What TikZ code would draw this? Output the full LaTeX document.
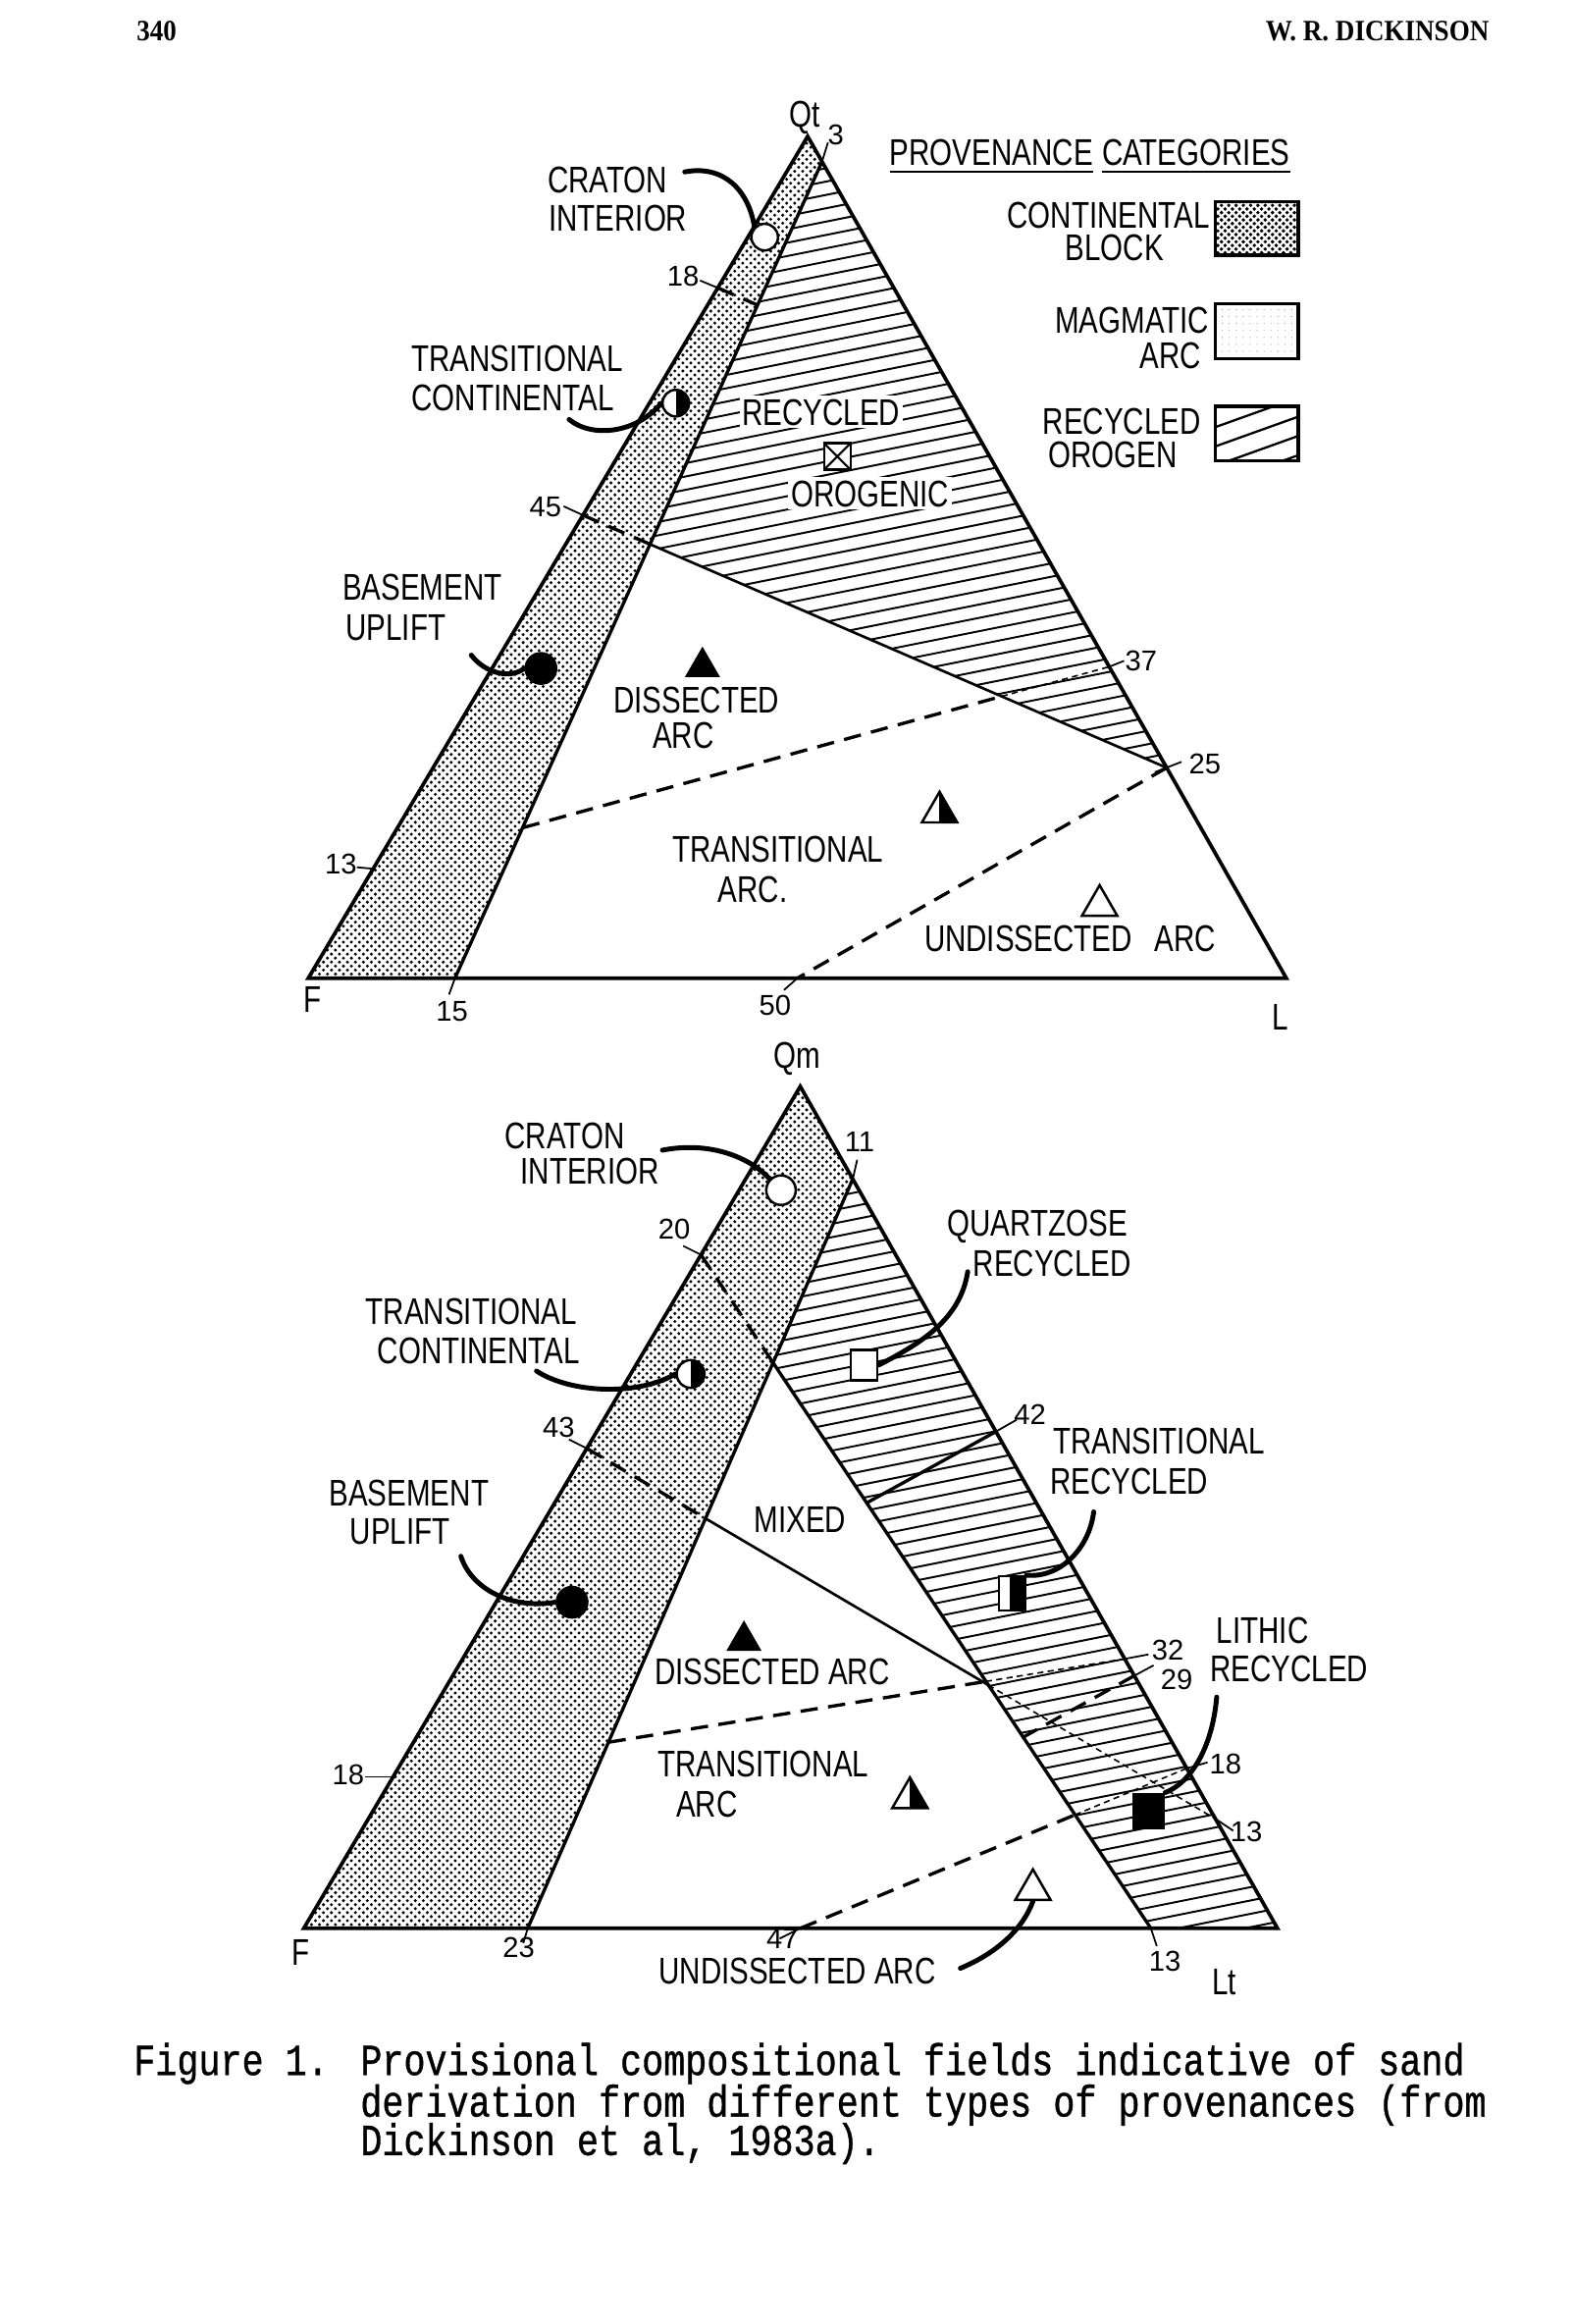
\documentclass[tikz,border=0pt]{standalone}
\usepackage{fontspec}
\usetikzlibrary{calc,patterns,shapes.geometric}
\newfontfamily\labf[FakeStretch=0.78]{Liberation Sans}
\newfontfamily\numf{Liberation Sans}
\newfontfamily\capf[FakeStretch=0.815,FakeBold=0.8]{Liberation Mono}
\newfontfamily\headf[FakeStretch=0.9]{Liberation Serif}
\pgfdeclarepatternformonly{stip}{\pgfqpoint{-1pt}{-1pt}}{\pgfqpoint{5.6pt}{5.6pt}}{\pgfqpoint{4.6pt}{4.6pt}}{%
  \pgfpathcircle{\pgfqpoint{0pt}{0pt}}{0.95pt}%
  \pgfpathcircle{\pgfqpoint{2.3pt}{2.3pt}}{0.95pt}%
  \pgfusepath{fill}}
\pgfdeclarepatternformonly{stipdark}{\pgfqpoint{-1pt}{-1pt}}{\pgfqpoint{5.2pt}{5.2pt}}{\pgfqpoint{4.2pt}{4.2pt}}{%
  \pgfpathcircle{\pgfqpoint{0pt}{0pt}}{1.1pt}%
  \pgfpathcircle{\pgfqpoint{2.1pt}{2.1pt}}{1.1pt}%
  \pgfusepath{fill}}
\pgfdeclarepatternformonly{stiplight}{\pgfqpoint{-1pt}{-1pt}}{\pgfqpoint{5pt}{5pt}}{\pgfqpoint{4pt}{4pt}}{%
  \pgfpathcircle{\pgfqpoint{0pt}{0pt}}{0.3pt}%
  \pgfusepath{fill}}
\begin{document}
\begin{tikzpicture}[x=0.03cm,y=-0.03cm,
  edge/.style={line width=2.1pt,line join=miter},
  bnd/.style={line width=1.9pt},
  sol/.style={line width=1.5pt},
  dsh/.style={line width=1.9pt,dash pattern=on 10pt off 6pt},
  fdsh/.style={line width=0.9pt,dash pattern=on 3.5pt off 2.5pt},
  hat/.style={line width=1.1pt},
  tick/.style={line width=1pt},
  ptr/.style={line width=2.8pt,line cap=round},
  lab/.style={font=\labf\fontsize{21.4}{22.1}\selectfont,align=center,inner sep=0pt,text height=15.4pt,text depth=0.3pt},
  num/.style={font=\numf\fontsize{16.5}{18}\selectfont,inner sep=0pt,text height=11.9pt,text depth=0.2pt},
  mk/.style={draw,line width=1.4pt,inner sep=0pt},
  tri/.style={regular polygon,regular polygon sides=3,minimum size=23.5pt,inner sep=0pt},
  halfright/.style={path picture={\fill[black] (path picture bounding box.north) rectangle (path picture bounding box.south east);}},
  capt/.style={font=\capf\fontsize{25.5}{27}\selectfont,inner sep=0pt,anchor=base west,text height=14.5pt,text depth=4pt},
  head/.style={font=\headf\bfseries\fontsize{17}{18}\selectfont,inner sep=0pt},
]
\fill[white] (0,0) rectangle (1062,1568);
\useasboundingbox (0,0) rectangle (1062,1568);

% ---------- header
\node[head,anchor=west] (pg) at (92,21) {340};
\node[head,anchor=east] (au) at (1005,21) {W. R. DICKINSON};

% ================= TOP TRIANGLE (Qt F L)
\coordinate (F1) at (208,660);
\coordinate (L1) at (868,660);
\coordinate (Q1) at (545,92);
\coordinate (T3) at ($(Q1)!0.03!(L1)$);
\coordinate (B15) at ($(F1)!0.15!(L1)$);
\coordinate (B50) at ($(F1)!0.50!(L1)$);
\coordinate (A18) at ($(F1)!0.82!(Q1)$);
\coordinate (A45) at ($(F1)!0.55!(Q1)$);
\coordinate (A13) at ($(F1)!0.13!(Q1)$);
\coordinate (R37) at ($(L1)!0.37!(Q1)$);
\coordinate (R25) at ($(L1)!0.25!(Q1)$);
\coordinate (A18d) at ($(A18)+(394,170)$);
\coordinate (X18) at (intersection of A18--A18d and T3--B15);
\coordinate (X45) at (intersection of A45--R25 and T3--B15);
\coordinate (X13) at (intersection of A13--R37 and T3--B15);
\coordinate (Y13) at (intersection of A13--R37 and A45--R25);

\fill[pattern=stip] (F1)--(Q1)--(T3)--(B15)--cycle;
\begin{scope}
  \clip (T3)--(R25)--(X45)--cycle;
  \foreach \c in {100,109,...,730} \draw[hat] (400,\c)--(900,\c-100);
\end{scope}

\draw[dsh] (A18)--(X18);
\draw[dsh] (A45)--(X45);
\draw[sol] (X45)--(R25);
\draw[dsh] (X13)--(Y13);
\draw[fdsh] (Y13)--(R37);
\draw[dsh] (R25)--(B50);
\draw[bnd] (T3)--(B15);
\draw[edge] (F1)--(Q1)--(L1)--cycle;

% ticks
\draw[tick] (T3)--++(4,-13);
\draw[tick] (A18)--++(-12,-5);
\draw[tick] (A45)--++(-13,-6);
\draw[tick] (A13)--++(-11,-1);
\draw[tick] (R37)--++(10,-4);
\draw[tick] ($(R25)+(-8,3)$)--++(18,-7);
\draw[tick] (B15)--++(-4,11);
\draw[tick] (B50)--++(-9,8);

% markers
\node[mk,circle,fill=white,minimum size=15.3pt] (m1ci) at (516,160) {};
\node[mk,circle,fill=white,minimum size=15.3pt,halfright] (m1tc) at (456,272) {};
\node[mk,rectangle,fill=white,minimum size=15.3pt,
  path picture={\draw[black,line width=1.2pt] (path picture bounding box.north west)--(path picture bounding box.south east) (path picture bounding box.north east)--(path picture bounding box.south west);}] (m1ro) at (565,308) {};
\node[circle,fill=black,minimum size=19pt,inner sep=0pt] (m1bu) at (365,451) {};
\node[tri,fill=black] (m1da) at (474,450) {};
\node[mk,tri,fill=white,halfright] (m1ta) at (634,548) {};
\node[mk,tri,fill=white] (m1ua) at (742,611) {};

% labels top
\node[lab] (qt) at (543,77) {Qt};
\node[num] (n3) at (564,91) {3};
\node[lab] (c1a) at (410,121) {CRATON};
\node[lab] (c1b) at (417,147) {INTERIOR};
\node[num] (n18a) at (461,186) {18};
\node[lab] (tc1a) at (349,242) {TRANSITIONAL};
\node[lab] (tc1b) at (346,268) {CONTINENTAL};
\node[lab,fill=white,inner sep=1.5pt] (ro1a) at (554,278) {RECYCLED};
\node[lab,fill=white,inner sep=1.5pt] (ro1b) at (587,333) {OROGENIC};
\node[num] (n45) at (368,342) {45};
\node[lab] (bu1a) at (285,396) {BASEMENT};
\node[lab] (bu1b) at (267,423) {UPLIFT};
\node[num] (n37) at (770,446) {37};
\node[lab] (da1a) at (470,472) {DISSECTED};
\node[lab] (da1b) at (461,496) {ARC};
\node[num] (n25) at (813,515) {25};
\node[lab] (ta1a) at (525,573) {TRANSITIONAL};
\node[lab] (ta1b) at (508,600) {ARC.};
\node[num] (n13a) at (230,583) {13};
\node[lab] (ua1) at (722,633) {UNDISSECTED\hspace{0.6em}ARC};
\node[lab] (vF1) at (211,674) {F};
\node[num] (n15) at (305,682) {15};
\node[num] (n50) at (523,678) {50};
\node[lab] (vL1) at (864,686) {L};

% pointers top
\coordinate (p1s) at (462,116);
\draw[ptr] (p1s) .. controls (488,111) and (505,128) .. (m1ci.north west);
\coordinate (p2s) at (384,283);
\draw[ptr] (p2s) .. controls (400,296) and (430,292) .. (m1tc.west);
\coordinate (p3s) at (318,442);
\draw[ptr] (p3s) .. controls (328,455) and (345,458) .. (m1bu.west);

% ---------- legend
\node[lab] (lgA) at (669,103) {PROVENANCE};
\node[lab] (lgB) at (807,103) {CATEGORIES};
\draw[line width=1.3pt] ([yshift=-3pt]lgA.south west)--([yshift=-3pt]lgA.south east);
\draw[line width=1.3pt] ([yshift=-3pt]lgB.south west)--([yshift=-3pt]lgB.south east);
\node[lab] (lg1a) at (748,145) {CONTINENTAL};
\node[lab] (lg1b) at (752,167) {BLOCK};
\node[lab] (lg2a) at (764,216) {MAGMATIC};
\node[lab] (lg2b) at (790,240) {ARC};
\node[lab] (lg3a) at (757,284) {RECYCLED};
\node[lab] (lg3b) at (751,307) {OROGEN};
\fill[pattern=stipdark] (820,136) rectangle (876,172);
\draw[line width=2pt] (820,136) rectangle (876,172);
\fill[pattern=stiplight,pattern color=gray] (820,205) rectangle (876,242);
\draw[line width=2pt] (820,205) rectangle (876,242);
\begin{scope}
  \clip (820,274) rectangle (876,311);
  \foreach \c in {290,303,...,360} \draw[line width=1.3pt] (815,\c)--(882,\c-24);
\end{scope}
\draw[line width=2pt] (820,274) rectangle (876,311);

% ================= BOTTOM TRIANGLE (Qm F Lt)
\coordinate (F2) at (205,1301);
\coordinate (L2) at (862,1301);
\coordinate (Q2) at (540,733);
\coordinate (R11) at ($(Q2)!0.11!(L2)$);
\coordinate (B23) at ($(F2)!0.23!(L2)$);
\coordinate (B87) at ($(F2)!0.87!(L2)$);
\coordinate (B47) at ($(F2)!0.51!(L2)$);
\coordinate (D20) at ($(F2)!0.80!(Q2)$);
\coordinate (D43) at ($(F2)!0.57!(Q2)$);
\coordinate (D18) at ($(F2)!0.18!(Q2)$);
\coordinate (S13) at ($(L2)!0.13!(Q2)$);
\coordinate (S32) at ($(L2)!0.32!(Q2)$);
\coordinate (S29) at ($(L2)!0.30!(Q2)$);
\coordinate (S18) at ($(L2)!0.19!(Q2)$);
\coordinate (S42) at ($(L2)!0.59!(Q2)$);
\coordinate (J) at (intersection of D20--B87 and R11--B23);
\coordinate (X43) at (intersection of D43--S13 and R11--B23);
\coordinate (K43) at (intersection of D43--S13 and J--B87);
\coordinate (X18b) at (intersection of D18--S32 and R11--B23);
\coordinate (K18) at (intersection of D18--S32 and J--B87);
\coordinate (K47) at (intersection of B47--S18 and J--B87);
\coordinate (S42d) at ($(S42)+(-300,165)$);
\coordinate (K42) at (intersection of S42--S42d and J--B87);
\coordinate (S29d) at ($(S29)+(-300,165)$);
\coordinate (K29) at (intersection of S29--S29d and J--B87);

\fill[pattern=stip] (F2)--(Q2)--(R11)--(B23)--cycle;
\begin{scope}
  \clip (R11)--(L2)--(B87)--(J)--cycle;
  \foreach \c in {770,779,...,1430} \draw[hat] (480,\c)--(900,\c-84);
\end{scope}

\draw[dsh] (D20)--(J);
\draw[bnd] (J)--(B87);
\draw[dsh] (D43)--(X43);
\draw[sol] (X43)--(K43);
\draw[fdsh] (K43)--(S13);
\draw[dsh] (X18b)--(K18);
\draw[fdsh] (K18)--(S32);
\draw[dsh] (B47)--(K47);
\draw[fdsh] (K47)--(S18);
\draw[sol,line width=1.9pt] (S42)--(K42);
\draw[dsh] (S29)--(K29);
\draw[bnd] (R11)--(B23);
\draw[edge] (F2)--(Q2)--(L2)--cycle;

% ticks
\draw[tick] (R11)--++(3,-13);
\draw[tick] (D20)--++(-12,-6);
\draw[tick] (D43)--++(-12,-6);
\draw[tick] (D18)--++(-19,0);
\draw[tick] (S42)--++(14,-8);
\draw[tick] (S32)--++(16,-3);
\draw[tick] (S29)--++(13,-7);
\draw[tick] (S18)--++(14,-4);
\draw[tick] (S13)--++(12,8);
\draw[tick] (B23)--++(-3,10);
\draw[tick] (B47)--++(-14,7);
\draw[tick] (B87)--++(4,12);

% markers
\node[mk,circle,fill=white,minimum size=17pt] (m2ci) at (527,803) {};
\node[mk,rectangle,fill=white,minimum width=15.5pt,minimum height=17.5pt] (m2qr) at (583,921) {};
\node[mk,circle,fill=white,minimum size=16pt,halfright] (m2tc) at (466,927) {};
\node[mk,rectangle,fill=white,minimum width=15pt,minimum height=19.5pt,
  path picture={\fill[black] ([xshift=-1.5pt]path picture bounding box.north) rectangle (path picture bounding box.south east);}] (m2tr) at (683,1075) {};
\node[circle,fill=black,minimum size=19pt,inner sep=0pt] (m2bu) at (386,1081) {};
\node[tri,fill=black] (m2da) at (502,1107) {};
\node[mk,tri,fill=white,halfright] (m2ta) at (614,1213) {};
\node[rectangle,fill=black,minimum width=18.7pt,minimum height=21pt,inner sep=0pt] (m2lr) at (775,1222) {};
\node[mk,tri,fill=white] (m2ua) at (697,1275) {};

% labels bottom
\node[lab] (qm) at (538,712) {Qm};
\node[num] (n11) at (580,770) {11};
\node[lab] (c2a) at (381,766) {CRATON};
\node[lab] (c2b) at (398,790) {INTERIOR};
\node[num] (n20) at (455,829) {20};
\node[lab] (qr2a) at (700,825) {QUARTZOSE};
\node[lab] (qr2b) at (710,852) {RECYCLED};
\node[lab] (tc2a) at (318,885) {TRANSITIONAL};
\node[lab] (tc2b) at (323,911) {CONTINENTAL};
\node[num] (n43) at (377,963) {43};
\node[num] (n42) at (695,954) {42};
\node[lab] (tr2a) at (782,972) {TRANSITIONAL};
\node[lab] (tr2b) at (762,999) {RECYCLED};
\node[lab] (bu2a) at (276,1007) {BASEMENT};
\node[lab] (bu2b) at (270,1033) {UPLIFT};
\node[lab] (mx) at (540,1025) {MIXED};
\node[lab] (lr2a) at (852,1100) {LITHIC};
\node[lab] (lr2b) at (870,1126) {RECYCLED};
\node[num] (n32) at (788,1113) {32};
\node[num] (n29) at (794,1133) {29};
\node[lab] (da2) at (521,1128) {DISSECTED ARC};
\node[num] (n18b) at (235,1197) {18};
\node[lab] (ta2a) at (515,1190) {TRANSITIONAL};
\node[lab] (ta2b) at (477,1217) {ARC};
\node[num] (n18c) at (827,1190) {18};
\node[num] (n13b) at (841,1236) {13};
\node[lab] (vF2) at (203,1317) {F};
\node[num] (n23) at (350,1314) {23};
\node[num] (n47) at (528,1308) {47};
\node[num] (n13c) at (786,1323) {13};
\node[lab] (vL2) at (826,1337) {Lt};
\node[lab] (ua2) at (538,1330) {UNDISSECTED ARC};

% pointers bottom
\coordinate (p4s) at (447,776);
\draw[ptr] (p4s) .. controls (478,770) and (505,780) .. (m2ci.north west);
\coordinate (p5s) at (362,925);
\draw[ptr] (p5s) .. controls (385,940) and (430,942) .. (m2tc.west);
\coordinate (p6s) at (311,1050);
\draw[ptr] (p6s) .. controls (318,1072) and (345,1086) .. (m2bu.west);
\coordinate (p7s) at (653,858);
\draw[ptr] (p7s) .. controls (648,890) and (622,906) .. (m2qr.east);
\coordinate (p8s) at (738,1020);
\draw[ptr] (p8s) .. controls (735,1045) and (715,1065) .. (m2tr.north east);
\coordinate (p9s) at (821,1145);
\draw[ptr] (p9s) .. controls (818,1180) and (803,1203) .. (m2lr.north east);
\coordinate (p10s) at (648,1328);
\draw[ptr] (p10s) .. controls (672,1318) and (690,1302) .. (m2ua.south);

% ---------- caption
\node[capt] (cap0) at (90,1400) {Figure 1.};
\node[capt] (cap1) at (243,1400) {Provisional compositional fields indicative of sand};
\node[capt] (cap2) at (243,1428) {derivation from different types of provenances (from};
\node[capt] (cap3) at (243,1454) {Dickinson et al, 1983a).};
\end{tikzpicture}
\end{document}
